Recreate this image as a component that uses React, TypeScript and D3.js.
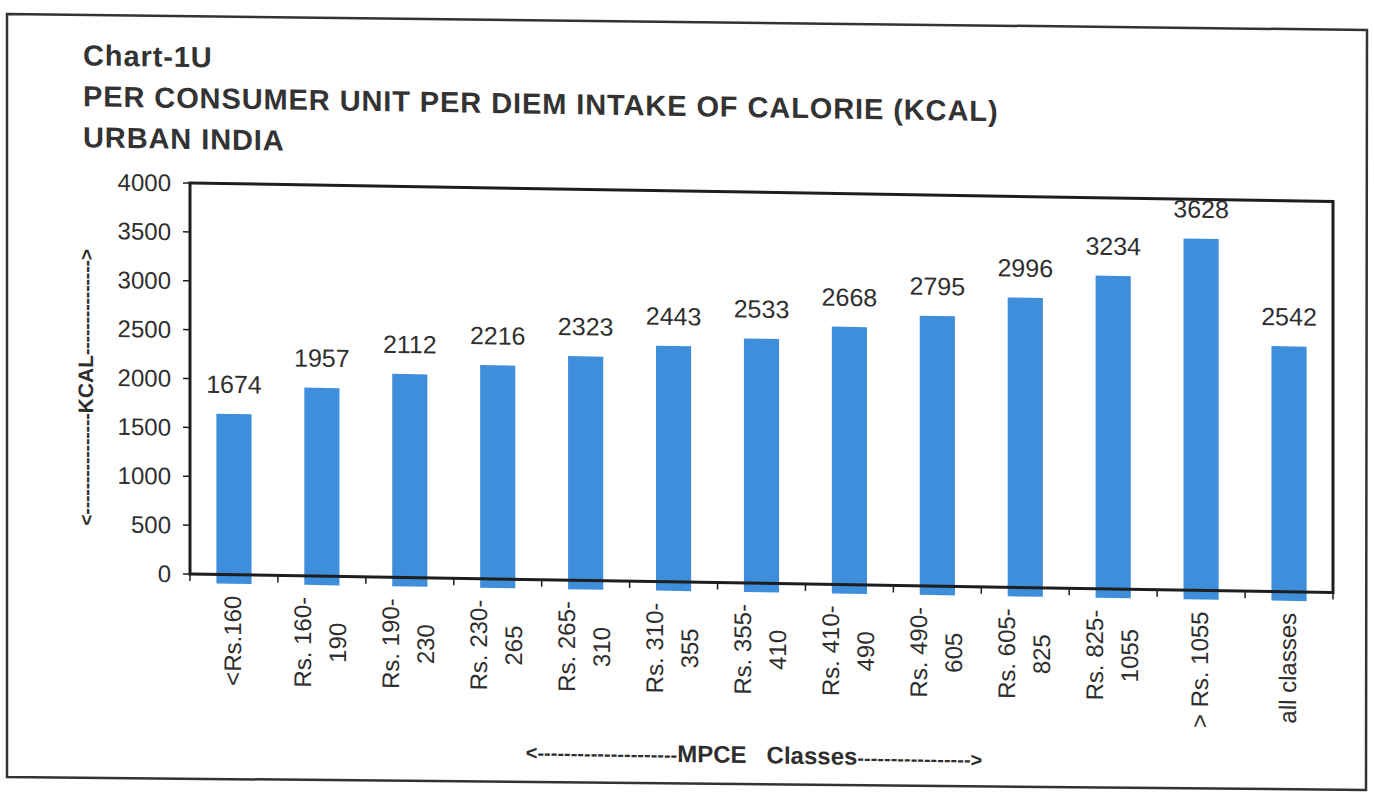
import React, { useEffect, useRef } from 'react';
import * as d3 from 'd3';

const titleLines: string[] = [
  'Chart-1U',
  'PER CONSUMER UNIT PER DIEM INTAKE OF CALORIE (KCAL)',
  'URBAN INDIA',
];

const categories: string[][] = [
  ['<Rs.160'],
  ['Rs. 160-', '190'],
  ['Rs. 190-', '230'],
  ['Rs. 230-', '265'],
  ['Rs. 265-', '310'],
  ['Rs. 310-', '355'],
  ['Rs. 355-', '410'],
  ['Rs. 410-', '490'],
  ['Rs. 490-', '605'],
  ['Rs. 605-', '825'],
  ['Rs. 825-', '1055'],
  ['> Rs. 1055'],
  ['all classes'],
];

const kcalValues: number[] = [1674, 1957, 2112, 2216, 2323, 2443, 2533, 2668, 2795, 2996, 3234, 3628, 2542];

const yTicks: number[] = [0, 500, 1000, 1500, 2000, 2500, 3000, 3500, 4000];

const yAxisTitle = 'KCAL';
const xAxisTitle = 'MPCE\u00a0\u00a0\u00a0Classes';

const FONT = '"Liberation Sans", Arial, Helvetica, sans-serif';
const TEXT = '#2e2e2e';
const BAR = '#3f8edb';

export default function App() {
  const ref = useRef<SVGSVGElement>(null);

  useEffect(() => {
    const svg = d3.select(ref.current);
    svg.selectAll('*').remove();

    const left = 190, right = 1333, top = 183, bottom = 574;
    const pivot = 190;

    // outer scanned page border
    svg.append('polygon')
      .attr('points', '7,14 1367,30 1366,790 7,777')
      .attr('fill', 'none')
      .attr('stroke', '#333')
      .attr('stroke-width', 2.5);

    const g = svg.append('g')
      .attr('transform', `translate(${pivot},0) skewY(0.93) translate(${-pivot},0)`)
      .style('font-family', FONT);

    // title (laid out word by word so the skew follows each word)
    const titleStyle = (t: d3.Selection<SVGTextElement, unknown, null, undefined>) =>
      t.attr('font-size', 29)
        .attr('font-weight', 'bold')
        .attr('letter-spacing', 0.9)
        .attr('fill', '#333');
    const probeA = titleStyle(g.append('text')).text('A\u00a0B');
    const probeB = titleStyle(g.append('text')).text('AB');
    const spaceW =
      (probeA.node() as SVGTextElement).getComputedTextLength() -
      (probeB.node() as SVGTextElement).getComputedTextLength();
    probeA.remove();
    probeB.remove();

    titleLines.forEach((line, i) => {
      let cx = 83;
      const by = 67 + i * 41;
      line.split(' ').forEach((word) => {
        const t = titleStyle(g.append('text')).attr('x', cx).attr('y', by).text(word);
        cx += (t.node() as SVGTextElement).getComputedTextLength() + spaceW;
      });
    });

    const x = d3.scaleBand<number>()
      .domain(d3.range(categories.length))
      .range([left, right])
      .paddingInner(0)
      .paddingOuter(0);
    const y = d3.scaleLinear().domain([0, 4000]).range([bottom, top]);

    const bw = x.bandwidth() * 0.4;

    // bars (slight print misregistration: shifted down, overhang below axis)
    g.append('g').selectAll('rect')
      .data(kcalValues)
      .join('rect')
      .attr('x', (_d, i) => (x(i) as number) + x.bandwidth() / 2 - bw / 2)
      .attr('y', (d) => y(d) + 3)
      .attr('width', bw)
      .attr('height', (d) => y(0) - y(d) + 6)
      .attr('fill', BAR);

    // frame
    g.append('rect')
      .attr('x', left)
      .attr('y', top)
      .attr('width', right - left)
      .attr('height', bottom - top)
      .attr('fill', 'none')
      .attr('stroke', '#1e1e1e')
      .attr('stroke-width', 3);

    // y ticks + labels
    const yt = g.append('g');
    yTicks.forEach((v) => {
      yt.append('line')
        .attr('x1', left - 7).attr('x2', left)
        .attr('y1', y(v)).attr('y2', y(v))
        .attr('stroke', '#1e1e1e').attr('stroke-width', 1.5);
      yt.append('text')
        .attr('x', left - 19)
        .attr('y', y(v))
        .attr('dy', '0.36em')
        .attr('text-anchor', 'end')
        .attr('font-size', 24)
        .attr('fill', TEXT)
        .text(String(v));
    });

    // x ticks at band boundaries
    d3.range(categories.length + 1).forEach((i) => {
      const xx = i < categories.length ? (x(i) as number) : right;
      g.append('line')
        .attr('x1', xx).attr('x2', xx)
        .attr('y1', bottom).attr('y2', bottom + 7)
        .attr('stroke', '#1e1e1e').attr('stroke-width', 1.5);
    });

    // value labels
    g.append('g').selectAll('text')
      .data(kcalValues)
      .join('text')
      .attr('x', (_d, i) => (x(i) as number) + x.bandwidth() / 2)
      .attr('y', (d) => y(d) - 18)
      .attr('text-anchor', 'middle')
      .attr('font-size', 25)
      .attr('fill', TEXT)
      .text((d) => String(d));

    // category labels, rotated
    const labelTop = 595;
    categories.forEach((lines, i) => {
      const cx = (x(i) as number) + x.bandwidth() / 2;
      const lg = g.append('g').attr('transform', `translate(${cx},${labelTop}) rotate(-90)`);
      const texts = lines.map((ln) =>
        lg.append('text')
          .attr('font-size', 24)
          .attr('fill', TEXT)
          .attr('text-anchor', 'middle')
          .text(ln)
      );
      const widths = texts.map((t) => (t.node() as SVGTextElement).getComputedTextLength());
      const maxW = Math.max(...widths);
      const n = lines.length;
      texts.forEach((t, k) => {
        t.attr('x', -maxW / 2).attr('y', 7 + (k - (n - 1) / 2) * 35);
      });
    });

    // y axis title
    const yTitle = g.append('text')
      .attr('transform', 'translate(93,389) rotate(-90)')
      .attr('text-anchor', 'middle')
      .attr('font-size', 21)
      .attr('font-weight', 'bold')
      .attr('fill', TEXT);
    yTitle.append('tspan').attr('font-size', 19).text('<' + '-'.repeat(16));
    yTitle.append('tspan').text(yAxisTitle);
    yTitle.append('tspan').attr('font-size', 19).text('-'.repeat(15) + '>');

    // x axis title
    const xTitle = g.append('text')
      .attr('x', 754)
      .attr('y', 754)
      .attr('text-anchor', 'middle')
      .attr('font-size', 24)
      .attr('font-weight', 'bold')
      .attr('fill', TEXT);
    xTitle.append('tspan').attr('font-size', 20).text('<' + '-'.repeat(21));
    xTitle.append('tspan').text(xAxisTitle);
    xTitle.append('tspan').attr('font-size', 20).text('-'.repeat(17) + '>');
  }, []);

  return (
    <svg
      ref={ref}
      width={1374}
      height={797}
      style={{ position: 'absolute', left: 0, top: 0, background: '#fff' }}
    />
  );
}
